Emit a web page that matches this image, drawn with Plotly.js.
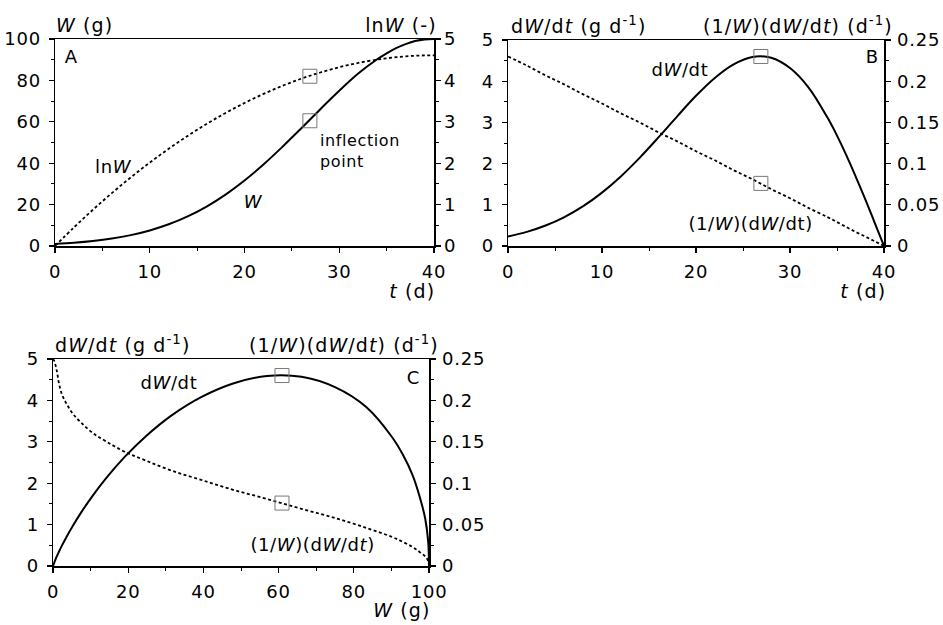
<!DOCTYPE html>
<html>
<head>
<meta charset="utf-8">
<script src="https://cdn.plot.ly/plotly-3.0.1.min.js"></script>
<style>
html,body{margin:0;padding:0;background:#fff;}
#chart{width:943px;height:625px;}
#chart .xtick text, #chart .ytick text, #chart .y2tick text, #chart .x2tick text, #chart .x3tick text,
#chart .y3tick text, #chart .y4tick text, #chart .y5tick text, #chart .y6tick text {letter-spacing:0.8px;}
#chart .annotation-text {letter-spacing:0.6px;}
#chart .axtitle .annotation-text {letter-spacing:1.1px;}
</style>
</head>
<body>
<div id="chart"></div>
<script>
// ---- data ----
var tDays = [0,2,4,6,8,10,12,14,16,18,20,22,24,26,28,30,32,34,35,36,37,38,39,40];
var weight = [1,1.57,2.40,3.59,5.25,7.50,10.48,14.30,19.07,24.85,31.65,39.4,47.9,56.9,66.1,75.0,83.3,90.2,93.1,95.6,97.5,99.0,99.8,100];
var lnWeight = [0,0.449,0.875,1.278,1.658,2.015,2.349,2.660,2.948,3.213,3.455,3.673,3.869,4.042,4.191,4.318,4.422,4.502,4.534,4.560,4.580,4.595,4.603,4.606];
var growthRate = [0.23,0.343,0.497,0.703,0.967,1.296,1.689,2.14,2.635,3.148,3.646,4.08,4.41,4.59,4.57,4.32,3.84,3.11,2.68,2.20,1.68,1.14,0.57,0];
var relGrowthRate = [0.230,0.219,0.207,0.196,0.184,0.173,0.161,0.150,0.138,0.127,0.115,0.104,0.092,0.081,0.069,0.058,0.046,0.035,0.029,0.023,0.017,0.0115,0.0058,0];

// panel C (vs W), starting points read near the origin
var weightC = [0,0.3,1,1.57,2.40,3.59,5.25,7.50,10.48,14.30,19.07,24.85,31.65,39.4,47.9,56.9,66.1,75.0,83.3,90.2,93.1,95.6,97.5,99.0,99.8,100];
var growthRateC = [0,0.07,0.23,0.343,0.497,0.703,0.967,1.296,1.689,2.14,2.635,3.148,3.646,4.08,4.41,4.59,4.57,4.32,3.84,3.11,2.68,2.20,1.68,1.14,0.57,0];
var relGrowthRateC = [0.25,0.248,0.236,0.221,0.207,0.196,0.184,0.173,0.161,0.150,0.138,0.127,0.115,0.104,0.092,0.081,0.069,0.058,0.046,0.035,0.029,0.023,0.017,0.0115,0.0058,0.001];

// inflection point markers
var inflT = [26.9];
var inflW = [60.5];
var inflLnW = [4.10];
var inflWC = [60.9];
var inflRate = [4.6];
var inflRel = [0.076];

// ---- styling ----
var W = 943, H = 625;
function px(x){return x/W;}
function py(y){return 1-y/H;}
var FONT = "DejaVu Sans, Verdana, sans-serif";
var solid = {color:'#000', width:2, shape:'spline', smoothing:1};
var dotted = {color:'#000', width:1.8, dash:'3px,2.5px', shape:'spline', smoothing:1};
var sq = {symbol:'square-open', size:14, color:'#777', line:{width:1, color:'#777'}};

var traces = [
  {x:tDays, y:weight, xaxis:'x', yaxis:'y', mode:'lines', line:solid},
  {x:tDays, y:lnWeight, xaxis:'x', yaxis:'y2', mode:'lines', line:dotted},
  {x:inflT, y:inflW, xaxis:'x', yaxis:'y', mode:'markers', marker:sq},
  {x:inflT, y:inflLnW, xaxis:'x', yaxis:'y2', mode:'markers', marker:sq},

  {x:tDays, y:growthRate, xaxis:'x2', yaxis:'y3', mode:'lines', line:solid},
  {x:tDays, y:relGrowthRate, xaxis:'x2', yaxis:'y4', mode:'lines', line:dotted},
  {x:inflT, y:inflRate, xaxis:'x2', yaxis:'y3', mode:'markers', marker:sq},
  {x:inflT, y:inflRel, xaxis:'x2', yaxis:'y4', mode:'markers', marker:sq},

  {x:weightC, y:growthRateC, xaxis:'x3', yaxis:'y5', mode:'lines', line:solid},
  {x:weightC, y:relGrowthRateC, xaxis:'x3', yaxis:'y6', mode:'lines', line:dotted},
  {x:inflWC, y:inflRate, xaxis:'x3', yaxis:'y5', mode:'markers', marker:sq},
  {x:inflWC, y:inflRel, xaxis:'x3', yaxis:'y6', mode:'markers', marker:sq}
];

function ax(o){
  var base = {
    showgrid:false, zeroline:false, showline:true, linecolor:'#000', linewidth:1.5,
    ticks:'outside', ticklen:5, tickwidth:1.2, tickcolor:'#000',
    tickfont:{family:FONT, size:18, color:'#000'},
    fixedrange:true
  };
  for (var k in o) base[k] = o[k];
  return base;
}
var minorX = function(d){return {dtick:d, ticks:'outside', ticklen:3, tickwidth:1, tickcolor:'#000'};};

var layout = {
  width:W, height:H, margin:{l:0,r:0,t:0,b:0},
  paper_bgcolor:'#fff', plot_bgcolor:'rgba(0,0,0,0)',
  showlegend:false, font:{family:FONT, color:'#000', size:16},
  xaxis: ax({domain:[px(55),px(434)], range:[0,40], dtick:10, anchor:'y', mirror:true, minor:minorX(5), ticklabelstandoff:4}),
  yaxis: ax({domain:[py(246),py(39)], range:[0,100], dtick:20, anchor:'x', minor:minorX(10), ticklabelstandoff:4}),
  yaxis2: ax({overlaying:'y', side:'right', anchor:'x', range:[0,5], dtick:1, minor:minorX(0.5), ticklabelstandoff:0}),

  xaxis2: ax({domain:[px(508),px(884)], range:[0,40], dtick:10, anchor:'y3', mirror:true, minor:minorX(5), ticklabelstandoff:4}),
  yaxis3: ax({domain:[py(246),py(40)], range:[0,5], dtick:1, anchor:'x2', minor:minorX(0.5), ticklabelstandoff:4}),
  yaxis4: ax({overlaying:'y3', side:'right', anchor:'x2', range:[0,0.25], dtick:0.05, minor:minorX(0.025), ticklabelstandoff:3}),

  xaxis3: ax({domain:[px(53),px(429)], range:[0,100], dtick:20, anchor:'y5', mirror:true, minor:minorX(10), ticklabelstandoff:4}),
  yaxis5: ax({domain:[py(566),py(359)], range:[0,5], dtick:1, anchor:'x3', minor:minorX(0.5), ticklabelstandoff:4}),
  yaxis6: ax({overlaying:'y5', side:'right', anchor:'x3', range:[0,0.25], dtick:0.05, minor:minorX(0.025), ticklabelstandoff:3}),
  annotations:[]
};

function note(text, x, y, xanchor, size, cls){
  layout.annotations.push({text:text, xref:'paper', yref:'paper', x:px(x), y:py(y),
    xanchor:xanchor||'center', yanchor:'middle', showarrow:false, align:xanchor==='left'?'left':'center',
    font:{family:FONT, size:size||17, color:'#000'}, name:cls||''});
}
// axis titles
note('<i>W</i> (g)', 54, 25, 'left', 19, 'axtitle');
note('ln<i>W</i> (-)', 435, 25, 'right', 19, 'axtitle');
note('<i>t</i> (d)', 434, 291, 'right', 19, 'axtitle');
note('d<i>W</i>/d<i>t</i> (g d<sup>-1</sup>)', 509, 25, 'left', 19, 'axtitle');
note('(1/<i>W</i>)(d<i>W</i>/d<i>t</i>) (d<sup>-1</sup>)', 885, 25, 'right', 19, 'axtitle');
note('<i>t</i> (d)', 885, 291, 'right', 19, 'axtitle');
note('d<i>W</i>/d<i>t</i> (g d<sup>-1</sup>)', 53, 344, 'left', 19, 'axtitle');
note('(1/<i>W</i>)(d<i>W</i>/d<i>t</i>) (d<sup>-1</sup>)', 431, 344, 'right', 19, 'axtitle');
note('<i>W</i> (g)', 430, 610, 'right', 19, 'axtitle');
// panel letters
note('A', 71, 57, 'center', 18);
note('B', 872, 56, 'center', 18);
note('C', 413, 377, 'center', 18);
// curve labels
note('ln<i>W</i>', 113, 166, 'center', 18);
note('<i>W</i>', 253, 202, 'center', 18);
note('inflection<br>point', 318, 151, 'left', 16);
note('d<i>W</i>/dt', 680, 69, 'center', 18);
note('(1/<i>W</i>)(d<i>W</i>/dt)', 750, 223, 'center', 18);
note('d<i>W</i>/dt', 169, 382, 'center', 18);
note('(1/<i>W</i>)(d<i>W</i>/d<i>t</i>)', 312, 544, 'center', 18);

Plotly.newPlot('chart', traces, layout, {staticPlot:true, displayModeBar:false}).then(function(gd){
  // tag axis-title annotations so the stylesheet can widen them
  var anns = gd.querySelectorAll('.annotation');
  anns.forEach(function(a, i){
    if (layout.annotations[i] && layout.annotations[i].name === 'axtitle') a.classList.add('axtitle');
  });
});
</script>
</body>
</html>
